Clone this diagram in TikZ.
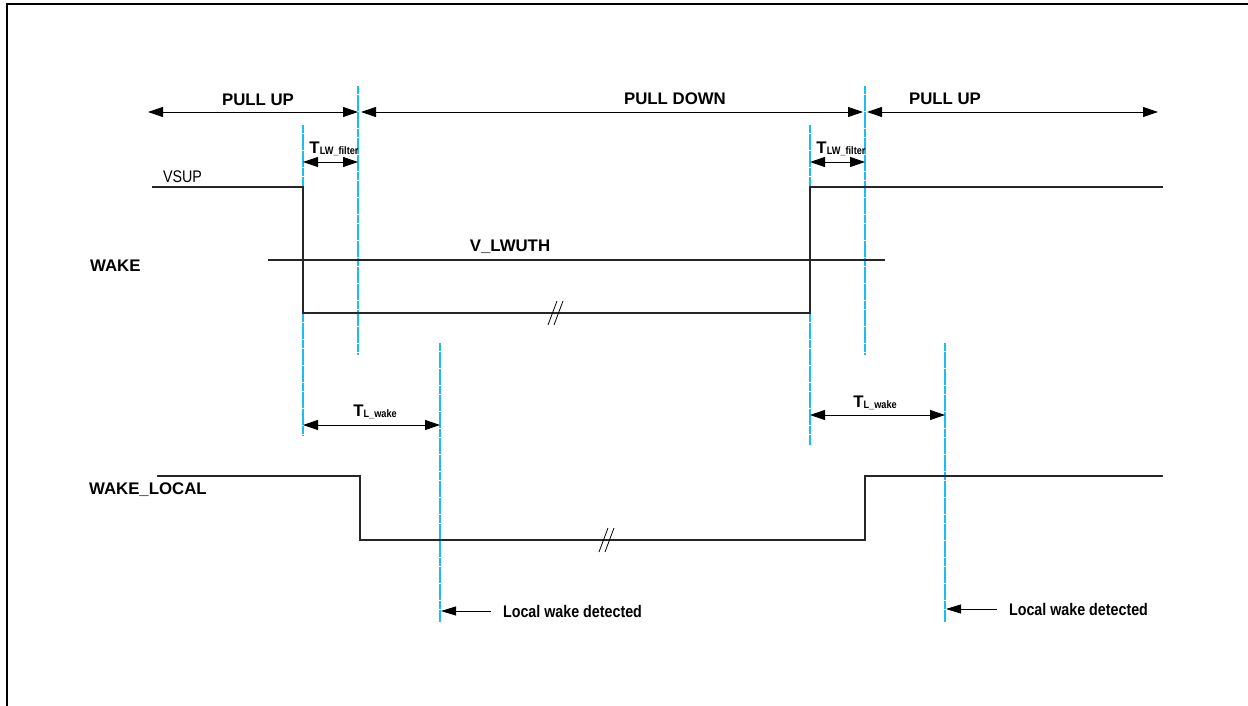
\documentclass[tikz,border=0pt]{standalone}
\usepackage{fontspec}
\setmainfont{Liberation Sans}
\usepackage{tikz}
\usetikzlibrary{arrows.meta}

\definecolor{guidecyan}{RGB}{25,190,240}
\newcommand{\nar}[1]{\scalebox{0.85}[1]{#1}}
\newcommand{\tsub}[1]{T\raisebox{-0.6pt}{\fontsize{5.4}{6}\selectfont\nar{#1}}}

\begin{document}
\begin{tikzpicture}[x=0.5pt,y=-0.5pt,font=\fontsize{8.4}{10}\selectfont\bfseries,
  sig/.style={line width=0.65pt,black!85},
  guide/.style={guidecyan,line width=0.6pt,dash pattern=on 4pt off 0.3pt},
  dim/.style={{Triangle[length=7.5pt,width=5pt]}-{Triangle[length=7.5pt,width=5pt]},line width=0.45pt},
  tip/.style={-{Triangle[length=7.5pt,width=4.5pt]},line width=0.45pt}]
\useasboundingbox (0,0) rectangle (1248,706);
% frame (top and left edges)
\draw[line width=1pt] (7,706) -- (7,4) -- (1248,4);
% pull phases
\draw[dim] (148,112) -- (358,112);
\draw[dim] (361,112) -- (863,112);
\draw[dim] (867,112) -- (1158,112);
\node (pu1) at (258,100) {PULL UP};
\node (pd) at (675,99) {PULL DOWN};
\node (pu2) at (945,99) {PULL UP};
% cyan guides
\foreach \x/\ya/\yb in {303/125/436, 358/86/355, 440/343/622, 810/125/445, 865/86/355, 945/343/622}{
  \draw[guide] (\x,\ya) -- (\x,\yb);}
% filter times
\draw[dim] (303,162) -- (358,162);
\draw[dim] (810,162) -- (865,162);
\node (tf1) at (334,149) {\tsub{LW\_filter}};
\node (tf2) at (841,149) {\tsub{LW\_filter}};
% WAKE
\node[anchor=west,font=\fontsize{8.4}{10}\selectfont] (vsup) at (156,177) {\nar{VSUP}};
\node[anchor=west] (wake) at (83,266) {WAKE};
\draw[sig] (152,187) -- (303,187) -- (303,313) -- (810,313) -- (810,187) -- (1163,187);
\draw[sig] (268,260) -- (885,260);
\node (vth) at (510,247) {V\_LWUTH};
% WAKE_LOCAL
\node[anchor=west] (wloc) at (82,490) {WAKE\_LOCAL};
\draw[sig] (157,476) -- (360,476) -- (360,540) -- (865,540) -- (865,476) -- (1163,476);
% break marks
\foreach \bx/\by in {556/313, 607/540}{
  \draw[line width=0.4pt] (\bx-8,\by+12) -- (\bx+1,\by-12);
  \draw[line width=0.4pt] (\bx-2,\by+12) -- (\bx+7,\by-12);}
% wake times
\draw[dim] (303,425) -- (440,425);
\draw[dim] (810,415) -- (945,415);
\node (tw1) at (375,412) {\tsub{L\_wake}};
\node (tw2) at (875,403) {\tsub{L\_wake}};
% detection
\node[anchor=west] (det1) at (496,611) {\nar{Local wake detected}};
\node[anchor=west] (det2) at (1002,609) {\nar{Local wake detected}};
\draw[tip] (491,611) -- (441,611);
\draw[tip] (997,609) -- (946,609);
\end{tikzpicture}
\end{document}
